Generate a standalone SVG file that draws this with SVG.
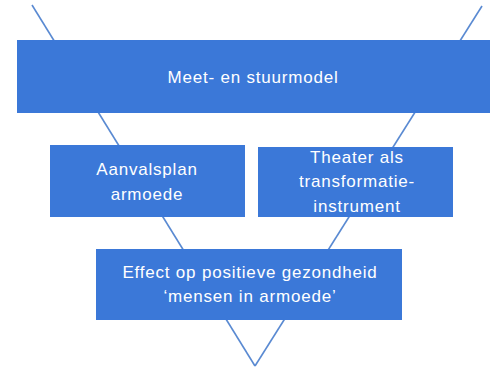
<svg xmlns="http://www.w3.org/2000/svg" width="494" height="369" viewBox="0 0 494 369">
<style>
.box{fill:#3b78d8;}
.lbl{font-family:"Liberation Sans",Arial,sans-serif;font-size:17px;fill:#ffffff;text-anchor:middle;letter-spacing:0.8px;}
.ln{stroke:#5a8ad2;stroke-width:1.6;fill:none;}
</style>
<rect width="494" height="369" fill="#ffffff"/>
<g id="connectors">
<line class="ln" x1="32" y1="5" x2="255" y2="366"/>
<line class="ln" x1="482" y1="6" x2="255" y2="366"/>
</g>
<g id="node-meet">
<rect class="box" x="17" y="40" width="473" height="73"/>
<text class="lbl" x="253" y="83">Meet- en stuurmodel</text>
</g>
<g id="node-aanvalsplan">
<rect class="box" x="50" y="145" width="195" height="72"/>
<text class="lbl" x="147" y="175">Aanvalsplan</text>
<text class="lbl" x="147" y="200">armoede</text>
</g>
<g id="node-theater">
<rect class="box" x="258" y="147" width="195" height="70"/>
<text class="lbl" x="357" y="163">Theater als</text>
<text class="lbl" x="357" y="187">transformatie-</text>
<text class="lbl" x="357" y="212">instrument</text>
</g>
<g id="node-effect">
<rect class="box" x="96" y="249" width="306" height="71"/>
<text class="lbl" x="250" y="278">Effect op positieve gezondheid</text>
<text class="lbl" x="250" y="302">‘mensen in armoede’</text>
</g>
</svg>
